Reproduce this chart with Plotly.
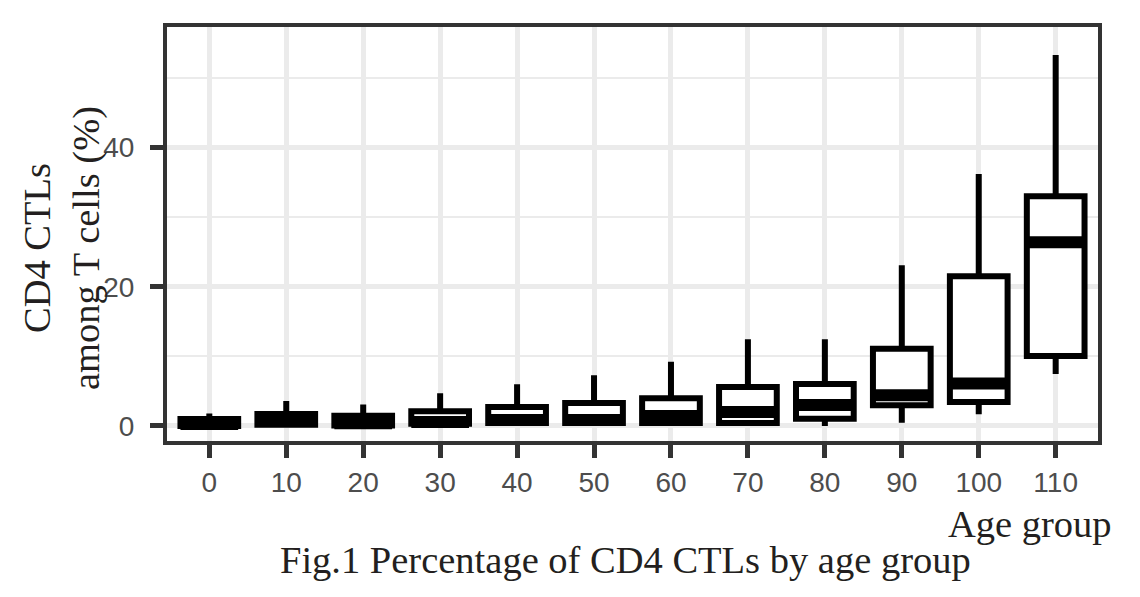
import plotly.graph_objects as go

# age groups and box statistics (CD4 CTLs among T cells, %)
age_groups = ["0", "10", "20", "30", "40", "50", "60", "70", "80", "90", "100", "110"]
lower = [0, 0, 0, 0, 0, 0, 0, 0, 0, 0.47, 1.68, 7.47]
q1 = [0, 0.19, 0.05, 0.33, 0.43, 0.43, 0.43, 0.43, 1.05, 2.97, 3.45, 10.06]
median = [0.3, 0.7, 0.4, 0.57, 0.86, 0.86, 1.44, 2.0, 3.0, 4.4, 6.1, 26.4]
q3 = [1.0, 1.72, 1.48, 2.1, 2.73, 3.3, 4.0, 5.6, 6.03, 11.1, 21.5, 33.0]
upper = [1.8, 3.6, 3.1, 4.7, 6.0, 7.3, 9.24, 12.46, 12.46, 23.1, 36.2, 53.3]

serif = "Liberation Serif, Times New Roman, serif"
sans = "Liberation Sans, Arial, sans-serif"
ink = "#231f20"

fig = go.Figure()
fig.add_trace(go.Box(
    x=age_groups, q1=q1, median=median, q3=q3,
    lowerfence=lower, upperfence=upper,
    width=0.75, whiskerwidth=0,
    line=dict(color="black", width=6),
    fillcolor="white", boxpoints=False, hoverinfo="skip",
))
# thicker median bar, like ggplot's fatten=2
fig.add_trace(go.Box(
    x=age_groups, q1=median, median=median, q3=median,
    lowerfence=median, upperfence=median,
    width=0.75, whiskerwidth=0,
    line=dict(color="black", width=12),
    fillcolor="rgba(0,0,0,0)", boxpoints=False, hoverinfo="skip",
))

# page body adds ~8px offset, so margins are shifted up/left
fig.update_layout(
    width=1140, height=597,
    margin=dict(l=159, r=50, t=19, b=164),
    paper_bgcolor="white", plot_bgcolor="white",
    showlegend=False, boxmode="overlay",
    font=dict(family=sans, color="#4d4d4d", size=28),
)
fig.update_xaxes(
    type="category", range=[-0.55, 11.55],
    showgrid=True, gridcolor="#ebebeb", gridwidth=4.5,
    showline=True, linecolor="#333333", linewidth=4, mirror=True,
    ticks="outside", ticklen=13, tickwidth=4.5, tickcolor="#333333",
    ticklabelstandoff=0,
    tickfont=dict(family=sans, size=28, color="#4d4d4d"),
)
fig.update_yaxes(
    range=[-2.16, 57.33], tickvals=[0, 20, 40], zeroline=False,
    showgrid=True, gridcolor="#ebebeb", gridwidth=4.5,
    minor=dict(tickvals=[10, 30, 50], showgrid=True, gridcolor="#ebebeb", gridwidth=2.3, ticks=""),
    showline=True, linecolor="#333333", linewidth=4, mirror=True,
    ticks="outside", ticklen=13, tickwidth=4.5, tickcolor="#333333",
    ticklabelstandoff=10,
    tickfont=dict(family=sans, size=28, color="#4d4d4d"),
)

title_font = dict(family=serif, size=38.5, color=ink)
fig.add_annotation(text="CD4 CTLs", xref="paper", yref="paper", x=-0.1396, y=0.4662,
                   xanchor="center", yanchor="middle", textangle=-90, showarrow=False, font=title_font)
fig.add_annotation(text="among T cells (%)", xref="paper", yref="paper", x=-0.0859, y=0.4662,
                   xanchor="center", yanchor="middle", textangle=-90, showarrow=False, font=title_font)
fig.add_annotation(text="Age group", xref="paper", yref="paper", x=1.017, y=-0.2005,
                   xanchor="right", yanchor="middle", showarrow=False, font=title_font)
fig.add_annotation(text="Fig.1 Percentage of CD4 CTLs by age group", xref="paper", yref="paper",
                   x=0.492, y=-0.2874, xanchor="center", yanchor="middle", showarrow=False,
                   font=title_font)

fig.write_html("out.html")
